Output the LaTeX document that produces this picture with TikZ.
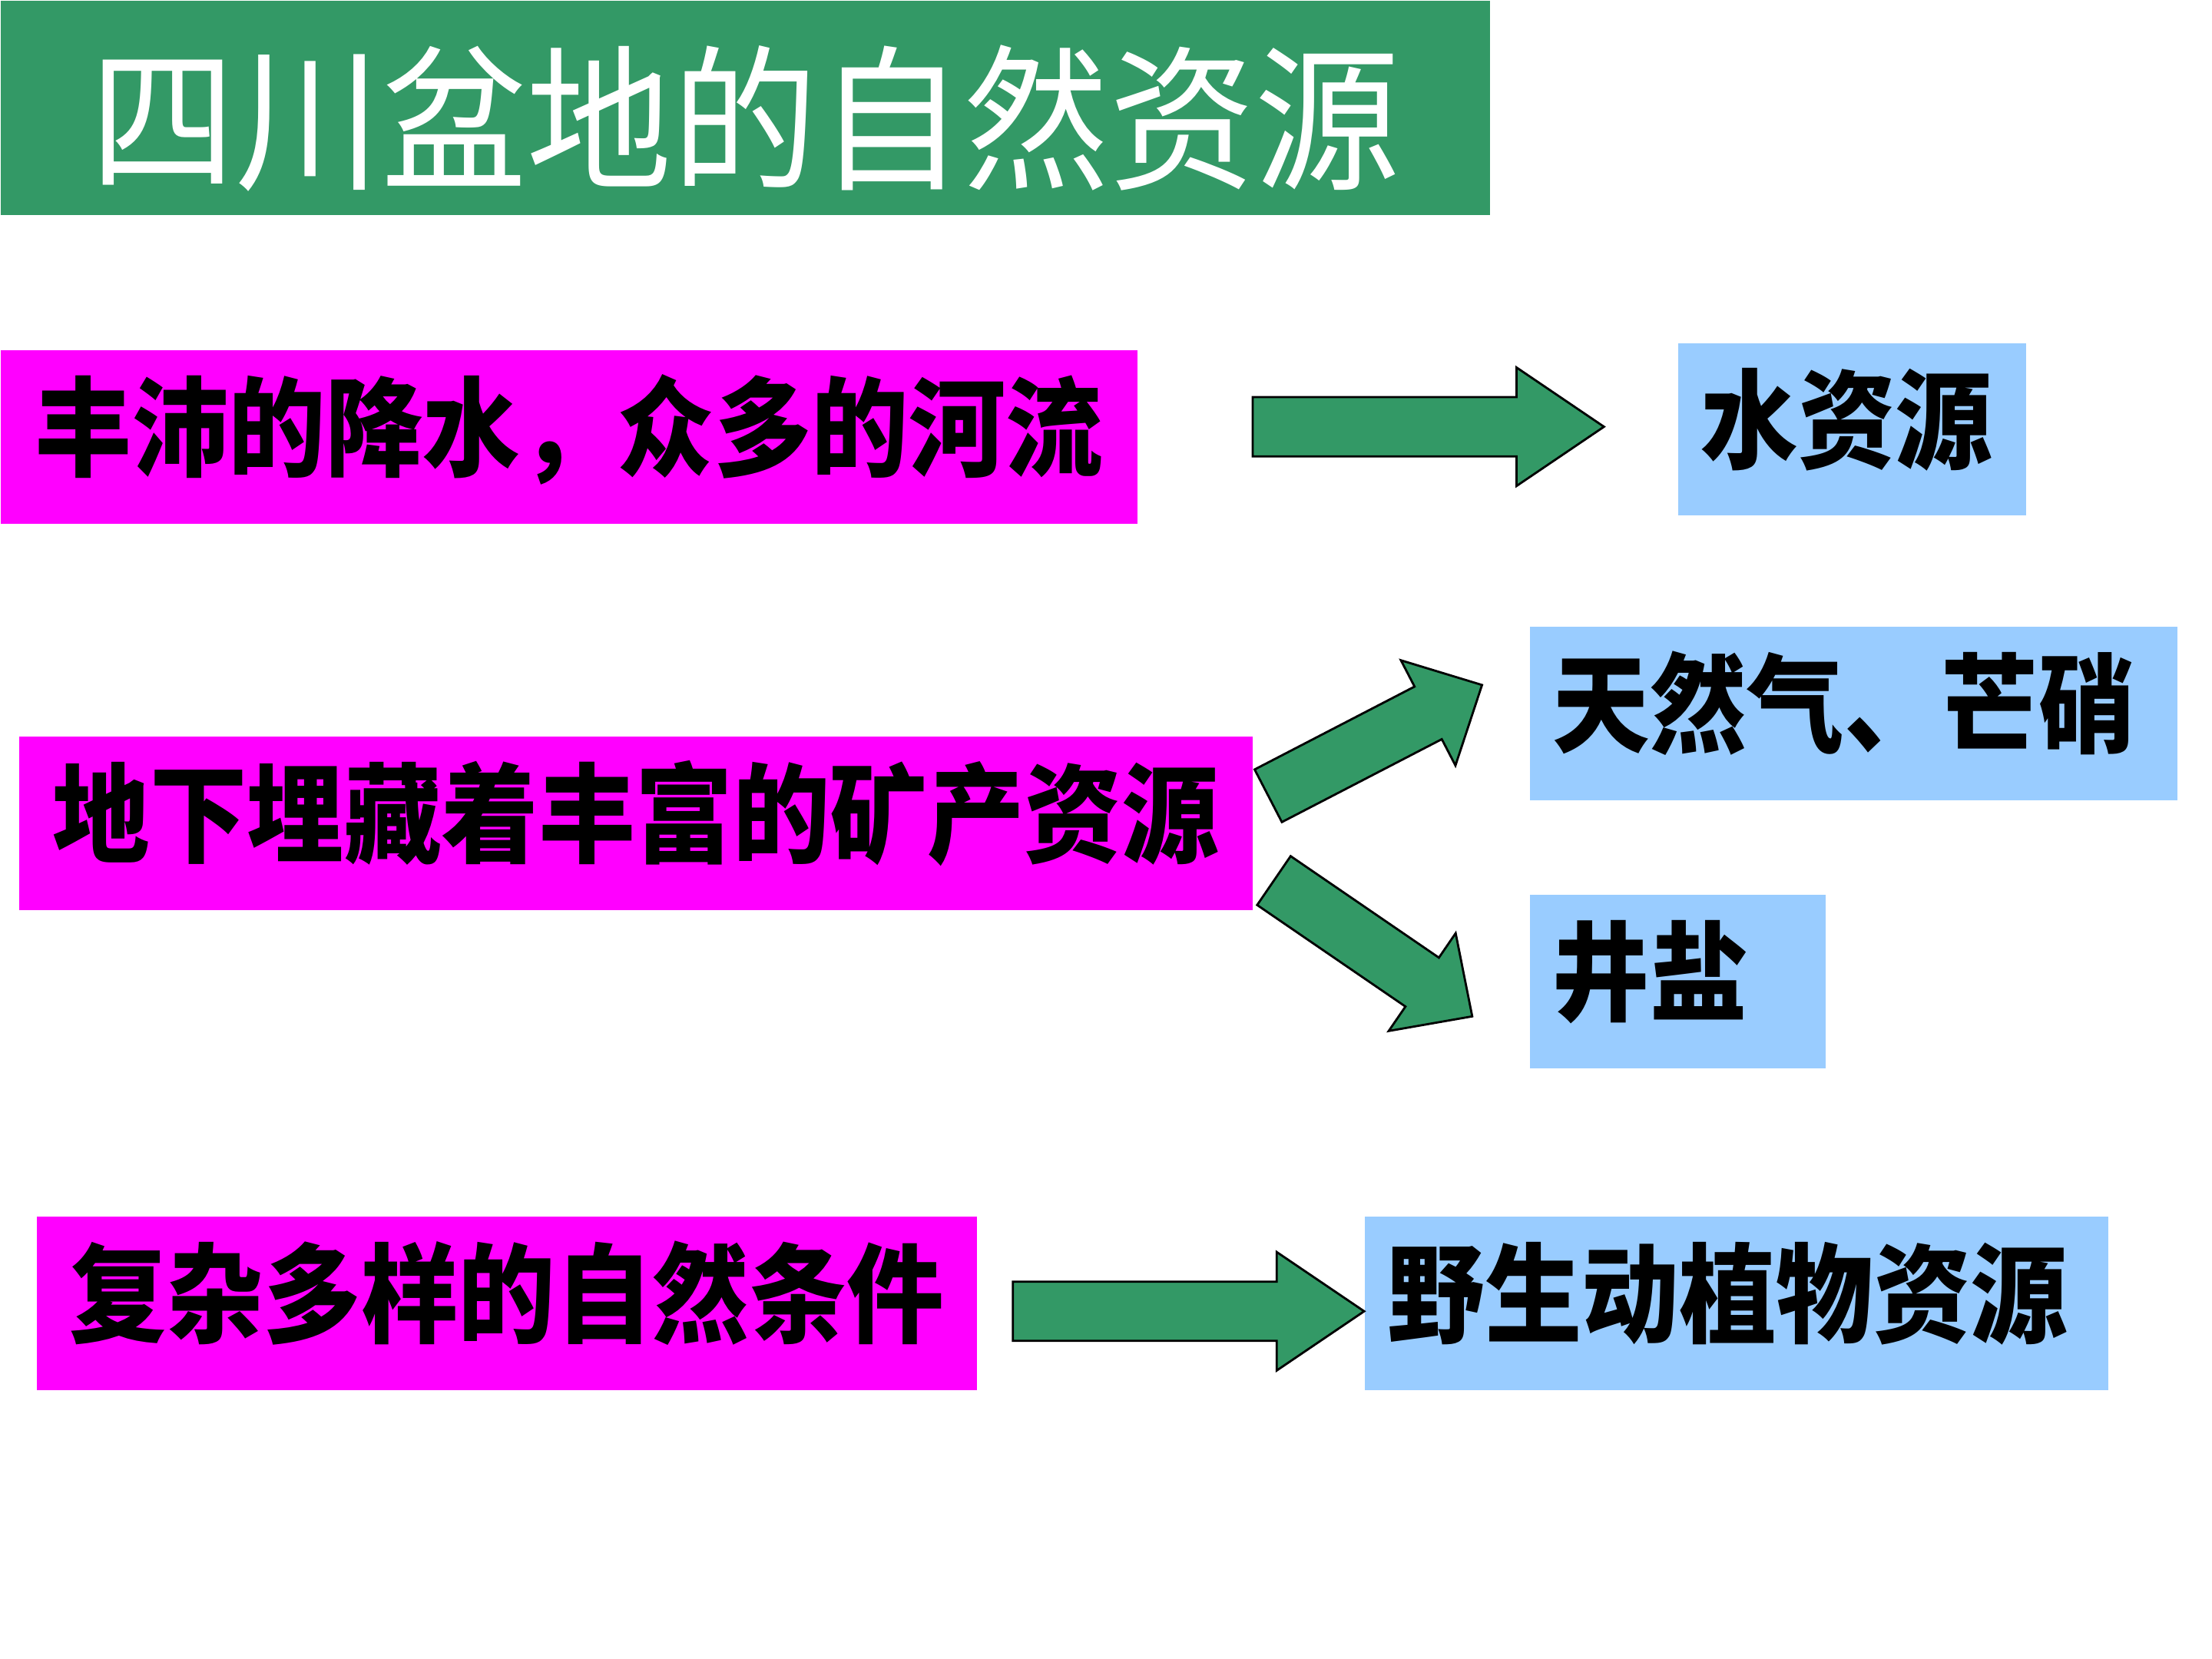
\documentclass[tikz,border=0pt]{standalone}
\usepackage{fontspec}
\newfontfamily\cjk{Noto Sans CJK SC}[FakeStretch=0.9]
\newfontfamily\cjktitle{Noto Sans CJK SC}[FakeStretch=0.93]
\definecolor{titlegreen}{RGB}{51,153,102}
\definecolor{causemag}{RGB}{255,0,255}
\definecolor{resblue}{RGB}{153,204,255}
% fat green arrow: tail point, angle, length, head length
\newcommand\greenarrow[4]{%
  \draw[fatarrow,shift={(#1)},rotate=#2]
    (0,21) -- ({#3-#4},21) -- ({#3-#4},42) -- (#3,0) -- ({#3-#4},-42)
    -- ({#3-#4},-21) -- (0,-21) -- cycle;}
\begin{document}
\begin{tikzpicture}[x=0.0183673cm,y=-0.0183673cm,
  cause/.style={fill=causemag,anchor=north west,minimum height=2.259cm,
    inner sep=0pt,text height=1.2cm,text depth=0.39cm,
    font=\cjk\bfseries\fontsize{40}{44}\selectfont},
  resource/.style={fill=resblue,anchor=north west,minimum height=2.259cm,
    inner xsep=0.3cm,inner ysep=0pt,align=left,text height=1.2cm,text depth=0.39cm,
    font=\cjk\bfseries\fontsize{40}{44}\selectfont},
  fatarrow/.style={fill=titlegreen,draw=black,line width=0.8pt,line join=miter}]

  \useasboundingbox (0,0) rectangle (1568,1176);

  \node[fill=titlegreen,anchor=north west,minimum width=19.396cm,
    minimum height=2.792cm,inner sep=0pt,text=white,text height=2.0cm,text depth=0.17cm,
    font=\cjktitle\fontsize{58}{64}\selectfont] (title) at (0,0) {四川盆地的自然资源};

  \node[cause,minimum width=14.804cm] (rain) at (0,248) {丰沛的降水，众多的河流};
  \node[cause,minimum width=16.071cm] (mine) at (13,522) {地下埋藏着丰富的矿产资源};
  \node[cause,minimum width=12.233cm] (nature) at (26,862) {复杂多样的自然条件};

  \node[resource,text width=3.937cm,minimum height=2.241cm] (water) at (1189,243) {水资源};
  \node[resource,text width=7.831cm] (gas) at (1084,444) {天然气、芒硝};
  \node[resource,text width=3.257cm] (salt) at (1084,634) {井盐};
  \node[resource,text width=9.080cm] (wild) at (967,862) {野生动植物资源};

  \coordinate (a1) at (888,302.5);
  \coordinate (a2) at (899,564.1);
  \coordinate (a3) at (903,624.2);
  \coordinate (a4) at (718,929.5);
  \greenarrow{a1}{0}{249}{62}
  \greenarrow{a2}{27.4}{170.7}{43}
  \greenarrow{a3}{-34.4}{170.4}{43}
  \greenarrow{a4}{0}{249}{62}
\end{tikzpicture}
\end{document}
